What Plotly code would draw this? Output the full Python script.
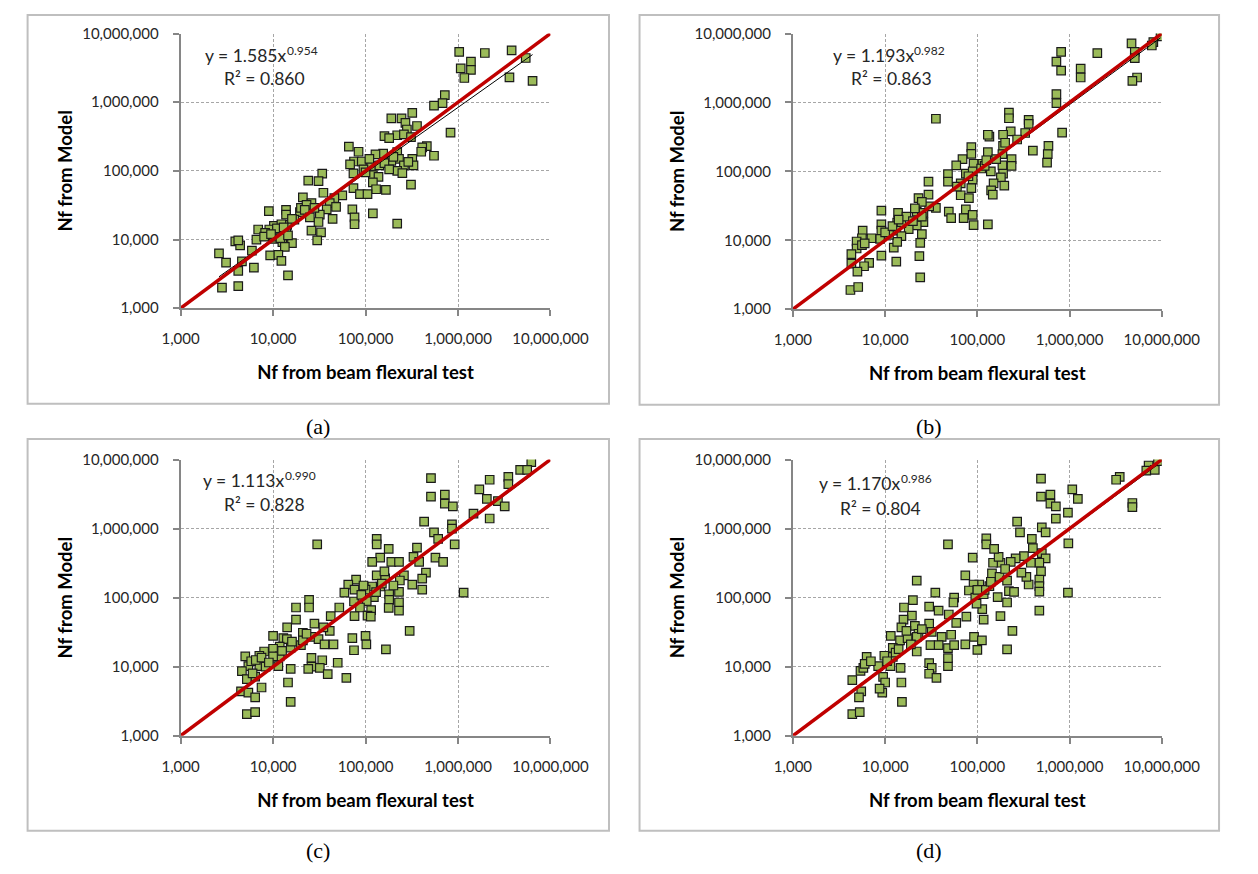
import plotly.graph_objects as go

W, H = 1258, 874

# Fatigue life pairs (Nf from beam flexural test, Nf from model) for each model variant
points_a = [
    (1.03e6, 5.4e6), (1.95e6, 5.2e6), (3.8e6, 5.7e6), (5.4e6, 4.4e6), (6.4e6, 2.05e6),
    (3.6e6, 2.3e6), (1.38e6, 3.9e6), (1.38e6, 2.95e6), (1.07e6, 3.1e6), (1.17e6, 2.25e6),
    (7.2e5, 1.27e6), (6.8e5, 9.7e5), (5.5e5, 8.9e5), (8.3e5, 3.6e5), (3.2e5, 7.0e5),
    (1.9e5, 5.8e5), (2.45e5, 5.8e5), (2.7e5, 5.0e5), (3.6e5, 4.5e5), (2.8e5, 4.0e5),
    (1.6e5, 3.2e5), (2.2e5, 3.3e5), (2.6e5, 3.4e5), (3.1e5, 3.1e5), (4.6e5, 2.3e5),
    (4.1e5, 2.2e5), (4.0e5, 1.9e5), (5.5e5, 1.66e5), (2.2e5, 1.87e5), (2.3e5, 1.5e5),
    (3.2e5, 1.5e5), (3.3e5, 1.2e5), (2.6e5, 1.2e5), (1.9e5, 1.4e5), (1.55e5, 1.78e5),
    (1.28e5, 1.74e5), (6.6e4, 2.25e5), (8.4e4, 1.9e5), (7.5e4, 1.37e5), (9.1e4, 1.37e5),
    (6.8e4, 1.24e5), (1.15e5, 1.17e5), (1.41e5, 1.2e5), (7.4e4, 9.2e4), (1.2e5, 8.7e4),
    (1.38e5, 8.2e4), (2.2e5, 1.0e5), (2.5e5, 9.3e4), (3.1e5, 6.3e4), (1.2e5, 6.8e4),
    (1.3e5, 5.4e4), (1.66e5, 5.3e4), (7.4e4, 5.6e4), (8.7e4, 4.6e4), (1.05e5, 4.6e4),
    (7.2e4, 2.75e4), (7.6e4, 2.1e4), (7.6e4, 1.67e4), (1.2e5, 2.4e4), (2.2e5, 1.7e4),
    (3.4e4, 9.1e4), (3.1e4, 7.1e4), (2.4e4, 7.2e4), (3.5e4, 4.8e4), (5.6e4, 4.4e4),
    (4.6e4, 4.0e4), (2.1e4, 4.1e4), (2.6e4, 3.4e4), (4.1e4, 3.4e4), (4.8e4, 3.0e4),
    (3.8e4, 2.75e4), (1.95e4, 2.5e4), (1.38e4, 2.7e4), (9.0e3, 2.6e4), (1.38e4, 2.3e4),
    (3.2e4, 2.3e4), (4.4e4, 2.0e4), (1.7e4, 1.95e4), (3.1e4, 1.8e4), (1.42e4, 1.64e4),
    (1.02e4, 1.58e4), (1.23e4, 1.67e4), (6.9e3, 1.4e4), (9.1e3, 1.4e4), (8.2e3, 1.25e4),
    (1.15e4, 1.27e4), (1.39e4, 1.24e4), (3.3e4, 1.27e4), (2.6e4, 1.35e4), (6.6e3, 1.0e4),
    (1.02e4, 1.02e4), (1.26e4, 9.2e3), (1.6e4, 8.9e3), (3.0e4, 9.7e3), (3.9e3, 9.4e3),
    (4.4e3, 8.2e3), (4.2e3, 9.7e3), (5.9e3, 6.9e3), (1.34e4, 7.8e3), (9.3e3, 5.9e3),
    (1.14e4, 6.0e3), (1.23e4, 4.9e3), (2.6e3, 6.3e3), (3.1e3, 4.6e3), (4.6e3, 4.8e3),
    (4.2e3, 3.5e3), (6.2e3, 3.9e3), (1.45e4, 3.0e3), (2.8e3, 2.0e3), (4.2e3, 2.1e3),
    (2.0e4, 2.9e4), (1.6e4, 2.0e4), (1.1e4, 1.1e4), (8.0e3, 1.1e4), (2.3e4, 3.2e4),
    (1.6e5, 1.3e5), (1.8e5, 1.05e5), (9.5e4, 1.05e5), (1.1e4, 1.45e4), (1.3e4, 1.5e4),
    (9.5e3, 1.2e4), (1.2e4, 1.05e4), (1.45e4, 1.15e4), (2.2e4, 2.7e4), (2.8e4, 2.9e4),
    (2.5e4, 2.1e4), (1.8e5, 3.0e5), (2.0e5, 1.6e5), (1.1e5, 1.5e5), (1.0e5, 9.5e4),
    (2.9e5, 1.35e5),
]

points_b = [
    (9.7e6, 9.1e6), (8.1e6, 7.5e6), (7.8e6, 6.7e6), (4.7e6, 7.2e6), (5.1e6, 5.4e6),
    (5.1e6, 4.4e6), (5.4e6, 2.3e6), (4.8e6, 2.05e6), (2.0e6, 5.2e6), (1.32e6, 3.1e6),
    (1.32e6, 2.3e6), (8.1e5, 5.4e6), (7.2e5, 3.9e6), (8.1e5, 2.9e6), (7.2e5, 1.32e6),
    (7.2e5, 9.8e5), (8.3e5, 3.65e5), (5.9e5, 2.35e5), (5.8e5, 1.78e5), (5.7e5, 1.34e5),
    (4.0e5, 2.0e5), (3.6e5, 5.6e5), (3.6e5, 4.9e5), (3.3e5, 3.6e5), (2.2e5, 7.1e5),
    (2.2e5, 5.9e5), (2.3e5, 3.8e5), (2.7e5, 2.9e5), (1.9e5, 3.4e5), (1.35e5, 3.2e5),
    (1.3e5, 3.4e5), (1.9e5, 2.35e5), (1.87e5, 1.78e5), (1.3e5, 1.9e5), (2.35e5, 1.5e5),
    (2.35e5, 1.2e5), (1.87e5, 1.22e5), (1.4e5, 1.0e5), (1.9e5, 9.3e4), (1.8e5, 8.2e4),
    (1.96e5, 6.2e4), (1.5e5, 6.7e4), (1.41e5, 5.3e4), (1.47e5, 4.6e4), (1.13e5, 1.29e5),
    (9.1e4, 1.29e5), (8.6e4, 2.24e5), (8.6e4, 1.79e5), (6.9e4, 1.5e5), (5.9e4, 1.22e5),
    (7.5e4, 9.3e4), (8.9e4, 1.0e5), (8.9e4, 7.6e4), (6.6e4, 6.7e4), (8.6e4, 5.7e4),
    (6.6e4, 4.5e4), (8.1e4, 4.1e4), (4.8e4, 9.1e4), (4.8e4, 7.1e4), (2.95e4, 7.1e4),
    (2.95e4, 4.6e4), (3.55e4, 5.8e5), (3.55e4, 2.95e4), (3.0e4, 3.1e4), (4.9e4, 2.6e4),
    (5.2e4, 2.1e4), (7.5e4, 2.8e4), (7.1e4, 2.1e4), (8.9e4, 2.33e4), (9.1e4, 1.66e4),
    (1.3e5, 1.7e4), (2.3e4, 4.1e4), (2.5e4, 3.6e4), (2.2e4, 2.6e4), (2.6e4, 2.5e4),
    (2.6e4, 1.84e4), (2.2e4, 1.65e4), (1.8e4, 1.45e4), (2.5e4, 1.23e4), (2.4e4, 9.2e3),
    (2.35e4, 5.9e3), (2.4e4, 2.9e3), (1.38e4, 2.5e4), (9.1e3, 2.7e4), (9.1e3, 1.7e4),
    (1.35e4, 1.8e4), (1.5e4, 1.78e4), (9.1e3, 1.38e4), (1.32e4, 1.38e4), (1.5e4, 1.15e4),
    (8.8e3, 1.05e4), (7.1e3, 1.07e4), (5.7e3, 1.38e4), (5.6e3, 1.07e4), (4.9e3, 9.6e3),
    (4.9e3, 7.6e3), (4.3e3, 6.3e3), (5.6e3, 8.5e3), (9.1e3, 6.0e3), (1.24e4, 7.8e3),
    (1.32e4, 4.9e3), (1.35e4, 9.5e3), (6.7e3, 4.7e3), (5.9e3, 4.2e3), (4.3e3, 4.6e3),
    (5.0e3, 3.5e3), (4.2e3, 1.9e3), (5.1e3, 2.1e3), (2.5e4, 2.2e4), (1.1e4, 1.2e4),
    (1.7e4, 2.2e4), (6.0e4, 6.0e4), (1.1e5, 1.1e5), (1.6e5, 1.5e5), (1.0e4, 1.3e4),
    (1.2e4, 1.6e4), (1.4e4, 2.0e4), (2.0e4, 1.9e4), (2.1e4, 2.9e4), (8.0e4, 8.5e4),
    (1.2e5, 1.2e5), (1.25e5, 1.45e5), (2.0e5, 2.6e5), (6.0e3, 9.0e3),
]

points_c = [
    (6.2e6, 9.2e6), (4.7e6, 7.1e6), (5.6e6, 7.1e6), (3.5e6, 5.6e6), (3.5e6, 4.4e6),
    (2.2e6, 5.1e6), (1.7e6, 3.7e6), (2.05e6, 2.7e6), (2.7e6, 2.5e6), (3.2e6, 2.1e6),
    (2.2e6, 1.4e6), (1.47e6, 1.65e6), (5.1e5, 5.4e6), (5.1e5, 2.9e6), (7.2e5, 3.1e6),
    (7.2e5, 2.3e6), (8.8e5, 2.1e6), (8.6e5, 1.15e6), (8.6e5, 1.0e6), (9.2e5, 5.9e5),
    (1.15e6, 1.18e5), (4.3e5, 1.26e6), (5.5e5, 8.8e5), (6.1e5, 7.1e5), (5.7e5, 3.8e5),
    (6.9e5, 3.3e5), (3.6e5, 5.3e5), (3.3e5, 3.9e5), (3.8e5, 3.3e5), (4.5e5, 2.3e5),
    (4.1e5, 1.88e5), (4.1e5, 1.31e5), (3.2e5, 1.54e5), (2.6e5, 2.1e5), (2.35e5, 1.77e5),
    (2.3e5, 1.21e5), (2.3e5, 8.5e4), (2.3e5, 6.5e4), (3.0e5, 3.3e4), (1.8e5, 1.12e5),
    (1.8e5, 9.3e4), (1.78e5, 7.1e4), (1.32e5, 7.1e5), (1.32e5, 5.9e5), (1.78e5, 5.1e5),
    (1.44e5, 3.8e5), (1.18e5, 3.3e5), (1.9e5, 3.3e5), (2.3e5, 3.3e5), (1.32e5, 2.1e5),
    (1.63e5, 1.9e5), (1.44e5, 1.45e5), (1.18e5, 1.45e5), (1.0e5, 1.31e5), (7.9e4, 1.82e5),
    (6.5e4, 1.54e5), (7.6e4, 1.31e5), (5.9e4, 1.18e5), (1.23e5, 1.02e5), (1.03e5, 8.9e4),
    (7.5e4, 8.8e4), (8.7e4, 7.2e4), (1.15e5, 6.6e4), (1.05e5, 5.5e4), (7.6e4, 5.4e4),
    (1.14e5, 5.3e4), (5.2e4, 7.2e4), (4.2e4, 5.4e4), (7.2e4, 2.6e4), (1.0e5, 2.8e4),
    (1.02e5, 2.1e4), (7.5e4, 1.73e4), (1.66e5, 1.78e4), (2.45e4, 9.3e4), (2.45e4, 7.2e4),
    (1.77e4, 7.2e4), (1.77e4, 4.8e4), (1.42e4, 3.7e4), (2.8e4, 4.2e4), (4.1e4, 3.3e4),
    (3.5e4, 3.7e4), (2.1e4, 3.1e4), (2.6e4, 2.7e4), (1.29e4, 2.6e4), (1.0e4, 2.8e4),
    (1.41e4, 2.5e4), (3.1e4, 2.5e4), (3.6e4, 2.1e4), (4.5e4, 2.1e4), (1.18e4, 1.95e4),
    (1.55e4, 1.89e4), (2.0e4, 2.05e4), (1.0e4, 1.82e4), (8.0e3, 1.66e4), (1.18e4, 1.41e4),
    (7.1e3, 1.44e4), (1.0e4, 1.41e4), (2.6e4, 1.34e4), (3.4e4, 1.24e4), (5.0e4, 1.14e4),
    (5.0e3, 1.41e4), (5.4e3, 1.02e4), (7.1e3, 1.02e4), (8.3e3, 1.0e4), (1.14e4, 1.02e4),
    (2.6e4, 1.0e4), (3.2e4, 9.6e3), (1.55e4, 9.3e3), (2.4e4, 9.3e3), (4.6e3, 8.6e3),
    (6.4e3, 7.2e3), (5.2e3, 6.6e3), (7.5e3, 5.0e3), (4.5e3, 4.4e3), (5.4e3, 4.2e3),
    (6.4e3, 3.6e3), (3.9e4, 7.8e3), (6.2e4, 6.9e3), (1.45e4, 5.9e3), (1.55e4, 3.1e3),
    (5.2e3, 2.05e3), (6.4e3, 2.2e3), (3.0e4, 5.9e5), (5.8e3, 1.2e4), (6.0e3, 8.0e3),
    (2.1e4, 2.4e4), (1.5e5, 1.6e5), (9.0e4, 1.1e5), (6.5e3, 1.25e4), (7.5e3, 1.35e4),
    (9.0e3, 1.15e4), (1.25e4, 1.7e4), (1.6e4, 2.3e4), (2.3e4, 3.0e4), (9.5e4, 1.5e5),
    (1.3e5, 1.2e5), (1.6e5, 2.4e5), (2.0e5, 1.5e5),
]

points_d = [
    (9.1e6, 9.5e6), (7.2e6, 8.2e6), (6.8e6, 6.9e6), (8.4e6, 7.1e6), (3.5e6, 5.6e6),
    (3.2e6, 5.1e6), (4.8e6, 2.35e6), (4.8e6, 2.05e6), (1.07e6, 3.7e6), (1.23e6, 2.7e6),
    (4.9e5, 5.3e6), (4.9e5, 2.9e6), (6.2e5, 3.1e6), (6.2e5, 2.3e6), (7.1e5, 2.1e6),
    (9.6e5, 1.7e6), (7.1e5, 1.39e6), (2.7e5, 1.26e6), (2.9e5, 8.8e5), (5.0e5, 1.04e6),
    (5.5e5, 8.8e5), (9.7e5, 6.1e5), (9.6e5, 1.18e5), (3.9e5, 7.1e5), (4.0e5, 5.2e5),
    (5.0e5, 4.4e5), (5.5e5, 3.7e5), (4.7e5, 3.2e5), (4.9e5, 2.4e5), (4.7e5, 1.82e5),
    (4.7e5, 1.47e5), (4.7e5, 1.22e5), (4.7e5, 6.5e4), (3.6e5, 1.55e5), (3.4e5, 2.0e5),
    (3.8e5, 3.2e5), (3.2e5, 4.0e5), (2.6e5, 3.7e5), (2.3e5, 3.3e5), (1.78e5, 3.2e5),
    (1.48e5, 3.2e5), (1.7e5, 3.9e5), (1.25e5, 7.2e5), (1.25e5, 5.9e5), (1.52e5, 5.1e5),
    (8.9e4, 3.8e5), (7.4e4, 2.1e5), (1.44e5, 2.25e5), (1.74e5, 2.0e5), (2.1e5, 1.76e5),
    (2.2e5, 1.24e5), (2.5e5, 1.21e5), (2.1e5, 8.5e4), (1.78e5, 5.4e4), (2.4e5, 3.3e4),
    (2.1e5, 1.78e4), (1.66e5, 1.02e5), (1.35e5, 1.47e5), (1.05e5, 1.55e5), (9.1e4, 1.55e5),
    (8.1e4, 1.27e5), (9.5e4, 1.0e5), (1.17e5, 1.12e5), (1.13e5, 6.8e4), (1.17e5, 4.8e4),
    (9.8e4, 8.2e4), (7.6e4, 5.3e4), (5.6e4, 1.0e5), (5.5e4, 8.5e4), (3.5e4, 1.18e5),
    (3.0e4, 7.4e4), (3.8e4, 6.5e4), (4.9e4, 5.7e4), (5.9e4, 4.3e4), (2.2e4, 1.76e5),
    (2.0e4, 9.2e4), (1.6e4, 7.2e4), (1.95e4, 5.5e4), (1.58e4, 4.8e4), (1.5e4, 3.7e4),
    (2.1e4, 3.9e4), (3.0e4, 4.2e4), (2.3e4, 3.0e4), (3.2e4, 3.2e4), (4.1e4, 2.7e4),
    (5.2e4, 2.9e4), (1.15e4, 2.8e4), (1.45e4, 2.4e4), (1.75e4, 2.6e4), (2.2e4, 2.7e4),
    (3.1e4, 2.05e4), (3.8e4, 2.05e4), (4.8e4, 1.86e4), (5.6e4, 2.05e4), (7.4e4, 2.1e4),
    (9.2e4, 2.7e4), (1.12e5, 2.4e4), (1.0e5, 1.75e4), (1.21e4, 1.87e4), (9.8e3, 1.44e4),
    (6.3e3, 1.39e4), (1.21e4, 1.39e4), (2.2e4, 1.66e4), (8.4e3, 1.02e4), (1.14e4, 1.02e4),
    (1.47e4, 9.6e3), (3.0e4, 1.13e4), (4.8e4, 1.02e4), (4.8e4, 1.33e4), (3.2e4, 9.6e3),
    (5.4e3, 8.7e3), (4.4e3, 6.4e3), (9.5e3, 7.1e3), (3.0e4, 7.9e3), (3.6e4, 6.9e3),
    (1.0e4, 5.9e3), (1.5e4, 5.9e3), (5.5e3, 4.4e3), (5.2e3, 3.6e3), (9.3e3, 4.2e3),
    (8.7e3, 4.8e3), (1.52e4, 3.1e3), (4.4e3, 2.05e3), (5.3e3, 2.2e3), (4.8e4, 5.9e5),
    (5.8e3, 9.6e3), (1.3e4, 1.6e4), (1.9e4, 2.1e4), (1.2e5, 1.3e5), (6.0e3, 1.1e4),
    (7.0e3, 1.2e4), (1.05e4, 1.2e4), (1.4e4, 1.8e4), (1.7e4, 3.3e4), (2.5e4, 3.5e4),
    (1.0e5, 1.3e5), (1.4e5, 1.7e5), (2.0e5, 2.6e5), (3.0e5, 2.3e5),
]

# Fitted power-law trend y = a * x^b and its R^2 for each panel
fit_a = (1.585, 0.954, 0.860)
fit_b = (1.193, 0.982, 0.863)
fit_c = (1.113, 0.990, 0.828)
fit_d = (1.170, 0.986, 0.804)

panel_tags = ["(a)", "(b)", "(c)", "(d)"]
tick_vals = [1e3, 1e4, 1e5, 1e6, 1e7]
tick_text = ["1,000", "10,000", "100,000", "1,000,000", "10,000,000"]
x_title = "Nf from beam flexural test"
y_title = "Nf from Model"
equality = [1e3, 1e7]


def px(x):
    return x / W


def py(y):
    return 1 - y / H


# plot-area pixel boxes (left, right, top, bottom) and frame boxes
plot_boxes = [
    (169.3, 556.7, 24, 304.5),
    (810.7, 1197.0, 24, 305.5),
    (169.3, 556.7, 459, 741),
    (810.7, 1197.0, 459, 741),
]
frames = [
    (9, 618, 5, 402),
    (650, 1257, 5, 403),
    (9, 618, 438, 838),
    (650, 1257, 438, 838),
]
# equation: joint x between "y = a x" and the exponent, baseline-row y, R^2 centre x, R^2 y
eq_pos = [(280, 46, 257, 70), (937, 46, 914, 70), (278, 480, 257, 505), (923, 483, 902, 509)]
tag_pos = [(313, 425), (953, 425), (313, 858), (953, 858)]

LABEL_FONT = "Lato, Carlito, Calibri, sans-serif"
TITLE_FONT = dict(family=LABEL_FONT, size=18.5, color="black", weight="bold")

fig = go.Figure()
layout = dict(
    width=W, height=H, margin=dict(l=0, r=0, t=0, b=0),
    paper_bgcolor="white", plot_bgcolor="white", showlegend=False,
    shapes=[], annotations=[],
)

panels = [(points_a, fit_a), (points_b, fit_b), (points_c, fit_c), (points_d, fit_d)]


def label(text, x, y, size, family=LABEL_FONT, color="#262626", xanchor="center"):
    return dict(text=text, xref="paper", yref="paper", x=px(x), y=py(y),
                xanchor=xanchor, yanchor="middle", showarrow=False,
                borderpad=0, borderwidth=0,
                font=dict(family=family, size=size, color=color))


for i, (pts, fit) in enumerate(panels):
    n = i + 1
    xa = "x" if n == 1 else f"x{n}"
    ya = "y" if n == 1 else f"y{n}"
    xs = [p[0] for p in pts]
    ys = [p[1] for p in pts]
    a, b, r2 = fit

    fig.add_trace(go.Scatter(
        x=xs, y=ys, mode="markers", xaxis=xa, yaxis=ya,
        marker=dict(symbol="square", size=8.5, color="#9bbb59",
                    line=dict(color="#1a1a1a", width=1.2)),
        hoverinfo="skip",
    ))
    tx = [min(xs), max(xs)]
    fig.add_trace(go.Scatter(
        x=tx, y=[a * v ** b for v in tx], mode="lines", xaxis=xa, yaxis=ya,
        line=dict(color="black", width=1), hoverinfo="skip",
    ))
    fig.add_trace(go.Scatter(
        x=equality, y=equality, mode="lines", xaxis=xa, yaxis=ya,
        line=dict(color="#c00000", width=3.5), hoverinfo="skip",
    ))

    l, r, t, btm = plot_boxes[i]
    common = dict(
        type="log", range=[3, 7], showline=True, linecolor="#868686", linewidth=2,
        showgrid=True, gridcolor="#a6a6a6", gridwidth=1, griddash="3px,2px",
        ticks="outside", ticklen=6, tickcolor="#868686", tickwidth=1.5,
        tickvals=tick_vals, ticktext=tick_text, zeroline=False, fixedrange=True,
        tickfont=dict(family=LABEL_FONT, size=15, color="#262626"),
    )
    layout["xaxis" if n == 1 else f"xaxis{n}"] = dict(
        common, domain=[px(l), px(r)], anchor=ya, ticklabelstandoff=10,
        title=dict(text=x_title, font=TITLE_FONT, standoff=20),
    )
    layout["yaxis" if n == 1 else f"yaxis{n}"] = dict(
        common, domain=[py(btm), py(t)], anchor=xa, ticklabelstandoff=11,
        title=dict(text=y_title, font=TITLE_FONT, standoff=5),
    )

    fl, fr, ft, fb = frames[i]
    layout["shapes"].append(dict(
        type="rect", xref="paper", yref="paper",
        x0=px(fl), x1=px(fr), y0=py(fb), y1=py(ft),
        line=dict(color="#bfbfbf", width=2), fillcolor="rgba(0,0,0,0)", layer="below",
    ))

    jx, ey, rx, ry = eq_pos[i]
    layout["annotations"] += [
        label(f"y = {a:.3f}x", jx, ey, 17.5, xanchor="right"),
        label(f"{b:.3f}", jx + 0.5, ey - 5, 12, xanchor="left"),
        label(f"R² = {r2:.3f}", rx, ry, 17.5),
        label(panel_tags[i], tag_pos[i][0], tag_pos[i][1], 22,
              family="Liberation Serif, Times New Roman, serif", color="black"),
    ]

fig.update_layout(**layout)
fig.write_html("out.html")
